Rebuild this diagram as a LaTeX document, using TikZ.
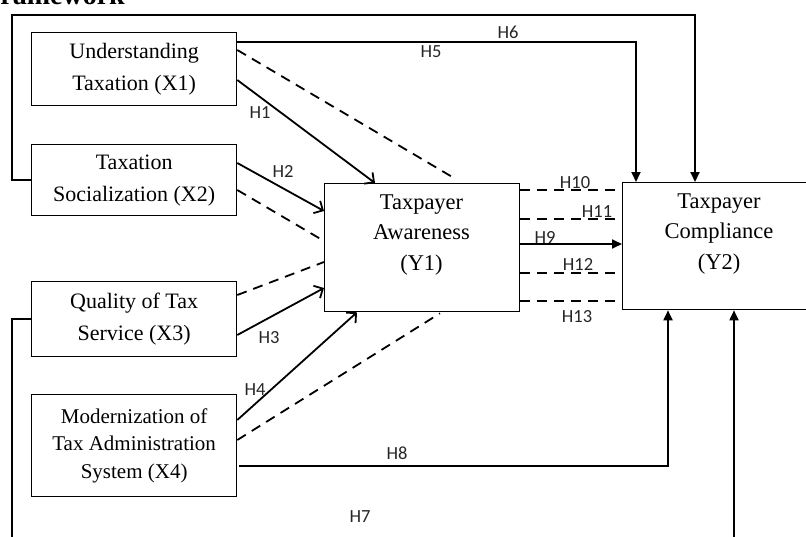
\documentclass[tikz,border=0pt]{standalone}
\usepackage{fontspec}
\setmainfont{Liberation Serif}
\newfontfamily\labfont{Carlito}
\usetikzlibrary{arrows.meta,calc}
\begin{document}
\begin{tikzpicture}[x=1pt,y=-1pt,
  box/.style={draw, line width=1.3pt, inner sep=0pt, anchor=north west, align=center},
  txt/.style={align=center, font=\fontsize{22.5}{30.5}\selectfont, inner sep=0pt},
  hl/.style={font=\labfont\fontsize{18.5}{18.5}\selectfont, text=black!85, inner sep=0pt},
  conn/.style={line width=1.8pt},
  dsh/.style={line width=1.8pt, dash pattern=on 10pt off 7pt},
  openar/.style={-{Straight Barb[length=7pt,width=14pt]}},
  tri/.style={-{Triangle[length=10pt,width=9pt]}}
]
\useasboundingbox (0,0) rectangle (806,536);

\node[anchor=base east, font=\bfseries\fontsize{28}{28}\selectfont, inner sep=0pt] (title) at (125,4) {Framework};

\node[box, minimum width=205pt, minimum height=73pt, font=\fontsize{22}{32}\selectfont] (X1) at (31,32) {Understanding\\Taxation (X1)};
\node[box, minimum width=205pt, minimum height=71pt, font=\fontsize{22}{32}\selectfont] (X2) at (31,144) {Taxation\\Socialization (X2)};
\node[box, minimum width=205pt, minimum height=75pt, font=\fontsize{22}{32}\selectfont] (X3) at (31,281) {Quality of Tax\\Service (X3)};
\node[box, minimum width=205pt, minimum height=102pt, font=\fontsize{21}{27.5}\selectfont] (X4) at (31,394) {Modernization of\\Tax Administration\\System (X4)};

\node[box, minimum width=195pt, minimum height=128pt] (Y1) at (324,183) {};
\node[txt] (Y1t) at (421.5,235) {Taxpayer\\Awareness\\(Y1)};
\node[box, minimum width=200pt, minimum height=127pt] (Y2) at (622,182) {};
\node[txt] (Y2t) at (719,234) {Taxpayer\\Compliance\\(Y2)};

% H6 outer loop
\draw[conn,tri] (X2.west) -| (12,15) -| ($(Y2.north west)+(73,0)$);
% H5
\draw[conn,tri] ($(X1.north east)+(0,10)$) -| ($(Y2.north west)+(14,0)$);
% H1
\draw[conn,openar] ($(X1.north east)+(0,48)$) -- ($(Y1.north west)+(51,0)$);
\draw[dsh] ($(X1.north east)+(0,18)$) -- ($(Y1.north west)+(130,-5)$);
% H2
\draw[conn,openar] ($(X2.north east)+(0,19)$) -- ($(Y1.north west)+(0,28)$);
\draw[dsh] ($(X2.north east)+(0,46)$) -- ($(Y1.north west)+(0,58)$);
% H3
\draw[dsh] ($(X3.north east)+(0,14)$) -- ($(Y1.north west)+(0,79)$);
\draw[conn,openar] ($(X3.north east)+(0,54)$) -- ($(Y1.north west)+(0,105)$);
% H4
\draw[conn,openar] ($(X4.north east)+(0,26)$) -- ($(Y1.south west)+(33,0)$);
\draw[dsh] ($(X4.north east)+(0,46)$) -- ($(Y1.south west)+(116,1)$);
% H8
\draw[conn,tri] ($(X4.north east)+(2,72)$) -| ($(Y2.south west)+(46,0)$);
% H7
\draw[conn,tri] (X3.west) -| (12,548) -| ($(Y2.south west)+(112,0)$);
% H9
\draw[conn,tri] ($(Y1.north east)+(0,61)$) -- ($(Y2.north west)+(0,62)$);
% H10-H13
\draw[dsh] ($(Y1.north east)+(0,7)$) -- ($(Y2.north west)+(0,8)$);
\draw[dsh] ($(Y1.north east)+(0,36)$) -- ($(Y2.north west)+(0,37)$);
\draw[dsh] ($(Y1.north east)+(0,90)$) -- ($(Y2.north west)+(0,91)$);
\draw[dsh] ($(Y1.north east)+(0,118)$) -- ($(Y2.north west)+(0,119)$);

% labels
\node[hl] (L1) at (260,113) {H1};
\node[hl] (L2) at (283,171) {H2};
\node[hl] (L3) at (269,338) {H3};
\node[hl] (L4) at (255,390) {H4};
\node[hl] (L5) at (431,52) {H5};
\node[hl] (L6) at (508,32) {H6};
\node[hl] (L7) at (360,517) {H7};
\node[hl] (L8) at (397,453) {H8};
\node[hl] (L9) at (545,237) {H9};
\node[hl] (L10) at (575,183) {H10};
\node[hl] (L11) at (597,212) {H11};
\node[hl] (L12) at (578,264) {H12};
\node[hl] (L13) at (577,317) {H13};
\end{tikzpicture}
\end{document}
